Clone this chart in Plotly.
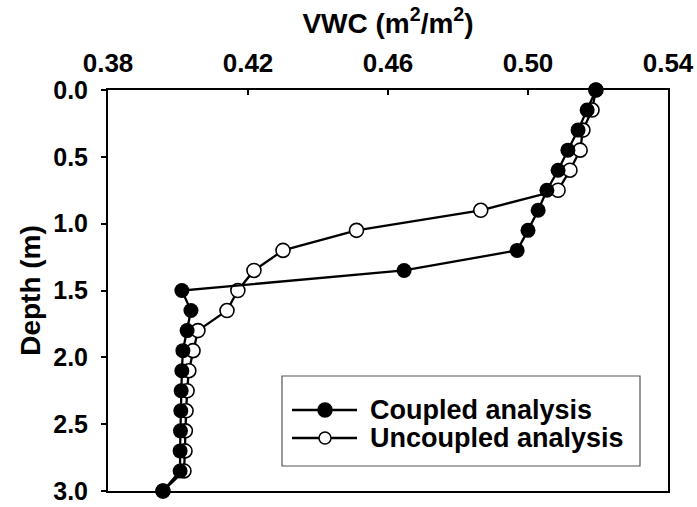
import plotly.graph_objects as go

depth = [0.0, 0.15, 0.3, 0.45, 0.6, 0.75, 0.9, 1.05, 1.2, 1.35, 1.5, 1.65, 1.8,
         1.95, 2.1, 2.25, 2.4, 2.55, 2.7, 2.85, 3.0]
vwc_coupled = [0.5194, 0.5169, 0.5143, 0.5114, 0.5086, 0.5054, 0.5029, 0.5000,
               0.4969, 0.4646, 0.4011, 0.4037, 0.4026, 0.4014, 0.4011, 0.4009,
               0.4008, 0.4007, 0.4006, 0.4006, 0.3957]
vwc_uncoupled = [0.5194, 0.5183, 0.5157, 0.5149, 0.5120, 0.5086, 0.4865, 0.4510,
                 0.4300, 0.4217, 0.4171, 0.4140, 0.4057, 0.4043, 0.4031, 0.4026,
                 0.4023, 0.4021, 0.4020, 0.4017, 0.3957]
series_names = ["Coupled analysis", "Uncoupled analysis"]

x_ticks = [0.38, 0.42, 0.46, 0.50, 0.54]
x_ticklabels = ["0.38", "0.42", "0.46", "0.50", "0.54"]
y_ticks = [0.0, 0.5, 1.0, 1.5, 2.0, 2.5, 3.0]
y_ticklabels = ["0.0", "0.5", "1.0", "1.5", "2.0", "2.5", "3.0"]

FONT = "Liberation Sans, Arial, sans-serif"

fig = go.Figure()
fig.add_trace(go.Scatter(
    x=vwc_uncoupled, y=depth, mode="lines+markers", name=series_names[1],
    line=dict(color="black", width=2.3),
    marker=dict(symbol="circle", size=14, color="white",
                line=dict(color="black", width=1.6)),
    cliponaxis=False, showlegend=False,
))
fig.add_trace(go.Scatter(
    x=vwc_coupled, y=depth, mode="lines+markers", name=series_names[0],
    line=dict(color="black", width=2.3),
    marker=dict(symbol="circle", size=15, color="black"),
    cliponaxis=False, showlegend=False,
))

# ---- custom legend (box, sample lines, sample markers, labels) ----
MT, MB, ML, MR = 90, 16, 108, 29
W, H = 697.0 - ML - MR, 507.0 - MT - MB
L, B = float(ML), 507.0 - MB
def px(x):
    return (x - L) / W
def py(y):
    return (B - y) / H

shapes = [dict(type="rect", xref="paper", yref="paper",
               x0=px(282), x1=px(640), y0=py(466), y1=py(376),
               line=dict(color="#555555", width=1.2), fillcolor="white", layer="above")]
annotations = []
rows = [410, 438]
for i, (yy, name) in enumerate(zip(rows, series_names)):
    shapes.append(dict(type="line", xref="paper", yref="paper",
                       x0=px(292), x1=px(357), y0=py(yy), y1=py(yy),
                       line=dict(color="black", width=2.3), layer="above"))
    r = 7 if i == 0 else 6
    shapes.append(dict(type="circle", xref="paper", yref="paper",
                       xsizemode="pixel", ysizemode="pixel",
                       xanchor=px(325), yanchor=py(yy),
                       x0=-r, x1=r, y0=-r, y1=r,
                       fillcolor="black" if i == 0 else "white",
                       line=dict(color="black", width=1.5), layer="above"))
    annotations.append(dict(xref="paper", yref="paper", x=px(368), y=py(yy),
                            xanchor="left", yanchor="middle", showarrow=False,
                            text="<b>" + name + "</b>",
                            font=dict(family=FONT, size=27, color="black")))

fig.update_layout(
    width=697, height=507,
    margin=dict(l=ML, r=MR, t=MT, b=MB),
    paper_bgcolor="white", plot_bgcolor="white",
    font=dict(family=FONT, color="black", size=26),
    showlegend=False,
    shapes=shapes, annotations=annotations,
    xaxis=dict(
        side="top", range=[0.38, 0.54],
        tickvals=x_ticks, ticktext=x_ticklabels,
        ticks="inside", ticklen=5, tickwidth=1.5, tickcolor="black",
        showline=True, linecolor="black", linewidth=2, mirror=True,
        showgrid=False, zeroline=False, automargin=False,
        tickfont=dict(family=FONT, size=26, color="black", weight="bold"),
        ticklabelstandoff=6, ticklabeloverflow="allow",
        title=dict(text="<b>VWC (m<sup>2</sup>/m<sup>2</sup>)</b>",
                   font=dict(family=FONT, size=28, color="black"), standoff=6),
    ),
    yaxis=dict(
        range=[3.0, 0.0],
        tickvals=y_ticks, ticktext=y_ticklabels,
        ticks="outside", ticklen=5, tickwidth=1.5, tickcolor="black",
        showline=True, linecolor="black", linewidth=2, mirror=True,
        showgrid=False, zeroline=False, automargin=False,
        tickfont=dict(family=FONT, size=25, color="black", weight="bold"),
        ticklabelstandoff=8, ticklabeloverflow="allow",
        title=dict(text="<b>Depth (m)</b>",
                   font=dict(family=FONT, size=28, color="black"), standoff=4),
    ),
)

fig.write_html("out.html")
